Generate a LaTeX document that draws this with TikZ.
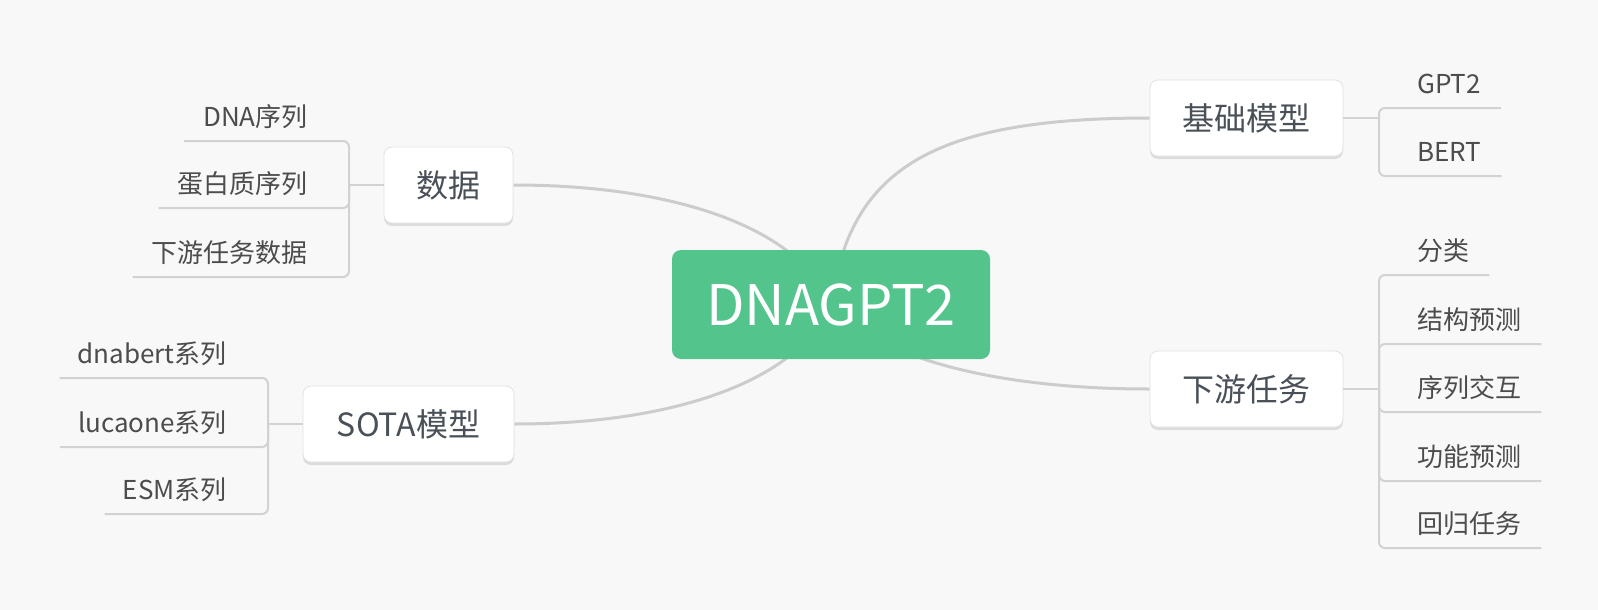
\documentclass[tikz,border=0pt]{standalone}
\usepackage{fontspec}
\setmainfont{Noto Sans CJK SC}
\usetikzlibrary{shadows,backgrounds}
\definecolor{bgc}{HTML}{F8F8F8}
\definecolor{greenc}{HTML}{52C48C}
\definecolor{curvec}{HTML}{CCCCCC}
\definecolor{brc}{HTML}{D2D2D2}
\definecolor{boxline}{HTML}{E2E2E2}
\definecolor{shadowc}{HTML}{DCDCDC}
\definecolor{topictext}{HTML}{4A5058}
\definecolor{leaftext}{HTML}{4C4C4C}
\tikzset{
  topic/.style={draw=boxline, line width=0.8pt, fill=white, rounded corners=8pt,
    minimum height=76pt, inner sep=0pt, font=\fontsize{32}{36}\selectfont, text=topictext,
    drop shadow={shadow xshift=0pt, shadow yshift=-3pt, opacity=1, fill=shadowc}},
  central/.style={fill=greenc, rounded corners=9pt, minimum width=318pt, minimum height=109pt,
    inner sep=0pt, text=white, font=\fontsize{56}{60}\selectfont},
  leaf/.style={inner sep=0pt, text height=20pt, text depth=14pt,
    font=\fontsize{26}{30}\selectfont, text=leaftext},
  leafL/.style={leaf, anchor=south east},
  leafR/.style={leaf, anchor=south west},
  maincurve/.style={draw=curvec, line width=3pt},
  brline/.style={draw=brc, line width=2pt, rounded corners=6pt}
}
\begin{document}
\begin{tikzpicture}[x=1pt,y=-1pt]
\useasboundingbox (0,0) rectangle (1598,610);
% nodes
\node[central] (c) at (831,304.5) {DNAGPT2};
\node[topic, minimum width=129pt] (data) at (448.5,185) {数据};
\node[topic, minimum width=211pt] (sota) at (408.5,424) {SOTA模型};
\node[topic, minimum width=193pt] (base) at (1246.5,118) {基础模型};
\node[topic, minimum width=193pt] (down) at (1246.5,389) {下游任务};
% leaves left
\node[leafL] (l1) at (308,141) {DNA序列};
\node[leafL] (l2) at (308,208) {蛋白质序列};
\node[leafL] (l3) at (308,277) {下游任务数据};
\node[leafL] (s1) at (227,378) {dnabert系列};
\node[leafL] (s2) at (227,447) {lucaone系列};
\node[leafL] (s3) at (227,514) {ESM系列};
% leaves right
\node[leafR] (b1) at (1417,108) {GPT2};
\node[leafR] (b2) at (1417,176) {BERT};
\node[leafR] (d1) at (1417,275) {分类};
\node[leafR] (d2) at (1417,344) {结构预测};
\node[leafR] (d3) at (1417,412) {序列交互};
\node[leafR] (d4) at (1417,481) {功能预测};
\node[leafR] (d5) at (1417,548) {回归任务};
% junctions
\coordinate (jd) at (349,185);
\coordinate (js) at (268,424);
\coordinate (jb) at (1379,118);
\coordinate (jx) at (1379,389);
% connectors from topics to junctions
\draw[brline] (data.west) -- (jd);
\draw[brline] (sota.west) -- (js);
\draw[brline] (base.east) -- (jb);
\draw[brline] (down.east) -- (jx);
% leaf lines
\draw[brline] (jd) |- ([xshift=-19pt]l1.south west);
\draw[brline] (jd) |- ([xshift=-19pt]l2.south west);
\draw[brline] (jd) |- ([xshift=-19pt]l3.south west);
\draw[brline] (js) |- ([xshift=-18pt]s1.south west);
\draw[brline] (js) |- ([xshift=-18pt]s2.south west);
\draw[brline] (js) |- ([xshift=-18pt]s3.south west);
\draw[brline] (jb) |- ([xshift=20pt]b1.south east);
\draw[brline] (jb) |- ([xshift=20pt]b2.south east);
\draw[brline] (jx) |- ([xshift=20pt]d1.south east);
\draw[brline] (jx) |- ([xshift=20pt]d2.south east);
\draw[brline] (jx) |- ([xshift=20pt]d3.south east);
\draw[brline] (jx) |- ([xshift=20pt]d4.south east);
\draw[brline] (jx) |- ([xshift=20pt]d5.south east);
\begin{pgfonlayer}{background}
\fill[bgc] (0,0) rectangle (1598,610);
\draw[maincurve] (c.center) .. controls (800,230) and (680,185) .. (data.east);
\draw[maincurve] (c.center) .. controls (800,378) and (680,424) .. (sota.east);
\draw[maincurve] (c.center) .. controls (850,170) and (930,118) .. (base.west);
\draw[maincurve] (c.center) .. controls (880,360) and (1000,389) .. (down.west);
\end{pgfonlayer}
\end{tikzpicture}
\end{document}
